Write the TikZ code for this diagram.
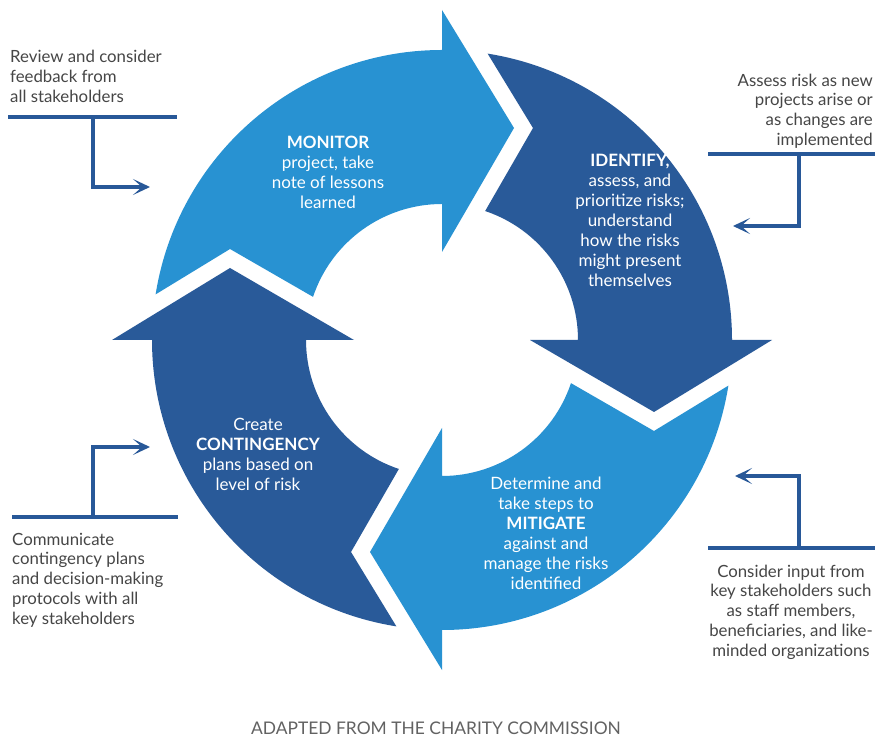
\documentclass[tikz,border=0pt]{standalone}
\usepackage{fontspec}
\setmainfont{Lato}
\usetikzlibrary{arrows.meta}
\definecolor{lightarr}{RGB}{40,146,210}
\definecolor{darkarr}{RGB}{41,90,153}
\definecolor{callout}{RGB}{40,88,152}
\definecolor{notegray}{RGB}{70,70,70}
\newcommand\cyclearrow[2]{%
  \begin{scope}[shift={(442,399)},rotate=#2]
    \fill[#1] (170.95:290) arc[start angle=170.95, end angle=90, radius=290]
      -- (90:330) -- (72,212) -- (90:88) -- (90:136)
      arc[start angle=90, end angle=161.5, radius=136]
      -- (156.77:230.7) -- cycle;
  \end{scope}}
\begin{document}
\begin{tikzpicture}[x=1pt,y=1pt,
  inlabel/.style={text=white, align=center, inner sep=0pt,
    font=\fontsize{17}{20}\selectfont},
  note/.style={text=notegray, inner sep=0pt,
    font=\fontsize{16.8}{19.8}\selectfont},
  callline/.style={draw=callout, line width=3.5pt},
  calltip/.style={-{Stealth[length=17pt,width=16pt,inset=9pt]}}]
\fill[white] (0,0) rectangle (875,739);
\useasboundingbox (0,0) rectangle (875,739);

% cycle arrows
\cyclearrow{lightarr}{0}
\cyclearrow{darkarr}{-90}
\cyclearrow{lightarr}{-180}
\cyclearrow{darkarr}{90}

% labels inside arrows
\node[inlabel] (monitor) at (328,567) {\textbf{MONITOR}\\project, take\\note of lessons\\learned};
\node[inlabel] (identify) at (630,518.5) {\textbf{IDENTIFY,}\\assess, and\\prioritize risks;\\understand\\how the risks\\might present\\themselves};
\node[inlabel] (mitigate) at (546,206) {Determine and\\take steps to\\\textbf{MITIGATE}\\against and\\manage the risks\\identified};
\node[inlabel] (contingency) at (258,285) {Create\\\textbf{CONTINGENCY}\\plans based on\\level of risk};

% side notes
\node[note, anchor=west, align=left] (tlnote) at (10,662.5) {Review and consider\\feedback from\\all stakeholders};
\node[note, anchor=east, align=right] (trnote) at (873,628) {Assess risk as new\\projects arise or\\as changes are\\implemented};
\node[note, anchor=west, align=left] (blnote) at (12,159) {Communicate\\contingency plans\\and decision-making\\protocols with all\\key stakeholders};
\node[note, anchor=center, align=center] (brnote) at (791,127) {Consider input from\\key stakeholders such\\as staff members,\\beneficiaries, and like-\\minded organizations};

% callout connectors
\coordinate (tlL) at (8,622);   \coordinate (tlR) at (177,622);
\coordinate (tlJ) at (93,622);  \coordinate (tlT) at (150,552);
\coordinate (trL) at (708,585); \coordinate (trR) at (875,585);
\coordinate (trJ) at (799,585); \coordinate (trT) at (733,513);
\coordinate (blL) at (12,222);  \coordinate (blR) at (178,222);
\coordinate (blJ) at (93,222);  \coordinate (blT) at (150,292);
\coordinate (brL) at (708,191); \coordinate (brR) at (875,191);
\coordinate (brJ) at (799,191); \coordinate (brT) at (735,263);
\draw[callline] (tlL) -- (tlR);
\draw[callline, calltip] (tlJ) |- (tlT);
\draw[callline] (trL) -- (trR);
\draw[callline, calltip] (trJ) |- (trT);
\draw[callline] (blL) -- (blR);
\draw[callline, calltip] (blJ) |- (blT);
\draw[callline] (brL) -- (brR);
\draw[callline, calltip] (brJ) |- (brT);

% caption
\node[text=notegray!85, inner sep=0pt, font=\fontsize{17.4}{20}\selectfont] (caption) at (436,11) {ADAPTED FROM THE CHARITY COMMISSION};
\end{tikzpicture}
\end{document}
